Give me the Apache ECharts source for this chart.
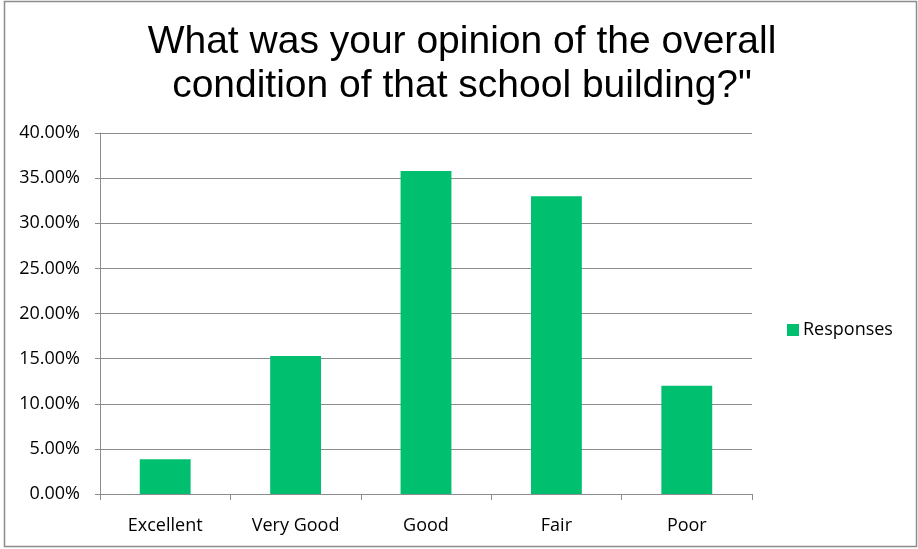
<!DOCTYPE html>
<html>
<head>
<meta charset="utf-8">
<script src="https://cdn.jsdelivr.net/npm/echarts@6/dist/echarts.min.js"></script>
<style>
html,body{margin:0;padding:0;background:#fff;}
#chart{width:918px;height:549px;}
</style>
</head>
<body>
<div id="chart"></div>
<script>
const titleLines = ['What was your opinion of the overall', 'condition of that school building?"'];
const categories = ['Excellent', 'Very Good', 'Good', 'Fair', 'Poor'];
const seriesName = 'Responses';
const values = [3.85, 15.3, 35.8, 33.0, 12.0];
const yMin = 0, yMax = 40, yStep = 5;

const chart = echarts.init(document.getElementById('chart'));
const labelFont = '"Open Sans", Carlito, Lato, sans-serif';
chart.setOption({
  animation: false,
  backgroundColor: '#fff',
  graphic: [{
    type: 'rect',
    shape: {x: 4.5, y: 1.5, width: 912, height: 545},
    style: {fill: 'none', stroke: '#8c8c8c', lineWidth: 1.5},
    silent: true
  }],
  title: {
    text: titleLines.join('\n'),
    left: 462,
    textAlign: 'center',
    top: 20,
    padding: 0,
    textStyle: {
      fontFamily: '"Liberation Sans", Arial, sans-serif',
      fontWeight: 'normal',
      fontSize: 39,
      lineHeight: 44,
      color: '#000'
    }
  },
  legend: {
    data: [seriesName],
    left: 787,
    top: 321,
    padding: 0,
    orient: 'vertical',
    icon: 'rect',
    itemWidth: 12,
    itemHeight: 12,
    itemGap: 6,
    textStyle: {fontFamily: labelFont, fontSize: 18, lineHeight: 18, color: '#000', padding: [0,0,0,-1]}
  },
  grid: {left: 100, right: 166, top: 133, bottom: 55, containLabel: false},
  xAxis: {
    type: 'category',
    data: categories,
    axisLine: {lineStyle: {color: '#8c8c8c', width: 1}},
    axisTick: {show: true, length: 6, lineStyle: {color: '#8c8c8c'}},
    axisLabel: {fontFamily: labelFont, fontSize: 18, color: '#000', margin: 23}
  },
  yAxis: {
    type: 'value',
    min: yMin,
    max: yMax,
    interval: yStep,
    axisLine: {show: true, lineStyle: {color: '#8c8c8c', width: 1}},
    axisTick: {show: true, length: 5, lineStyle: {color: '#8c8c8c'}},
    splitLine: {lineStyle: {color: '#8c8c8c', width: 1}},
    axisLabel: {
      fontFamily: labelFont, fontSize: 18, color: '#000', margin: 20,
      formatter: v => v.toFixed(2) + '%'
    }
  },
  series: [{
    name: seriesName,
    type: 'bar',
    data: values,
    barWidth: '39%',
    itemStyle: {color: '#00C06F'}
  }]
});
</script>
</body>
</html>
